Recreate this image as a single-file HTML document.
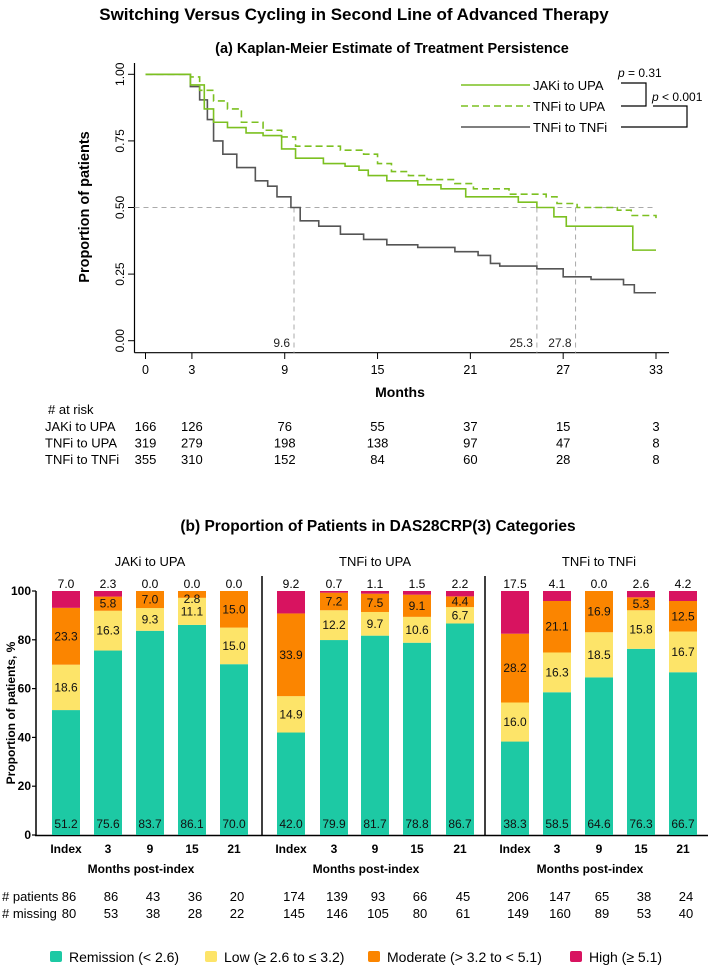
<!DOCTYPE html>
<html><head><meta charset="utf-8"><style>
body{margin:0;background:#fff;}
svg{display:block;font-family:"Liberation Sans Narrow","Liberation Sans",sans-serif;}
.b{font-family:"Liberation Sans",sans-serif;font-weight:bold;}
</style></head><body>
<svg id="chart" width="708" height="967" viewBox="0 0 708 967" xmlns="http://www.w3.org/2000/svg">
<text class="b" x="354" y="20" text-anchor="middle" font-size="17">Switching Versus Cycling in Second Line of Advanced Therapy</text>
<text class="b" x="392" y="53" text-anchor="middle" font-size="14.5">(a)  Kaplan-Meier Estimate of Treatment Persistence</text>
<g id="km"></g>
<text class="b" x="378" y="531" text-anchor="middle" font-size="15.5">(b) Proportion of Patients in DAS28CRP(3) Categories</text>
<g id="bars"></g>
</svg>
<script>
// ---- KM data ----
const kmMonthsTicks = [0,3,9,15,21,27,33];
const kmYTicks = [0,0.25,0.5,0.75,1];
const jakiUpaPts = [[2.9,0.96],[3.8,0.87],[4.4,0.82],[5.3,0.80],[6.5,0.78],[7.6,0.77],[8.8,0.72],[9.7,0.685],[11.5,0.665],[12.9,0.655],[13.8,0.64],[14.4,0.62],[15.6,0.60],[17.6,0.585],[19.1,0.57],[20.7,0.54],[24.1,0.52],[25.3,0.50],[26.4,0.465],[27.2,0.43],[31.5,0.34],[33,0.34]];
const tnfiUpaPts = [[2.9,0.99],[3.5,0.94],[4.4,0.90],[5.3,0.87],[6.2,0.82],[7.6,0.79],[8.8,0.765],[9.7,0.73],[12.6,0.715],[14.1,0.70],[15.0,0.665],[15.9,0.635],[17.0,0.62],[18.2,0.605],[20.0,0.59],[21.2,0.57],[23.5,0.55],[25.9,0.54],[26.6,0.515],[27.9,0.50],[30.5,0.49],[31.4,0.47],[33,0.46]];
const tnfiTnfiPts = [[2.9,0.954],[3.5,0.904],[4.0,0.83],[4.4,0.75],[5.0,0.70],[5.9,0.65],[7.1,0.60],[7.9,0.58],[8.5,0.54],[9.4,0.50],[10.0,0.45],[11.2,0.43],[12.6,0.40],[14.1,0.38],[15.6,0.36],[17.6,0.35],[20.0,0.334],[21.5,0.32],[22.3,0.29],[22.9,0.28],[25.3,0.27],[27.0,0.24],[28.8,0.23],[30.9,0.21],[31.6,0.18],[33,0.18]];
const medians = [9.6,25.3,27.8];
const riskNames = ["JAKi to UPA","TNFi to UPA","TNFi to TNFi"];
const riskJaki = [166,126,76,55,37,15,3];
const riskTnfiUpa = [319,279,198,138,97,47,8];
const riskTnfiTnfi = [355,310,152,84,60,28,8];
// ---- Bar data ----
const groups = ["JAKi to UPA","TNFi to UPA","TNFi to TNFi"];
const timepoints = ["Index","3","9","15","21"];
const remission = [[51.2,75.6,83.7,86.1,70.0],[42.0,79.9,81.7,78.8,86.7],[38.3,58.5,64.6,76.3,66.7]];
const low = [[18.6,16.3,9.3,11.1,15.0],[14.9,12.2,9.7,10.6,6.7],[16.0,16.3,18.5,15.8,16.7]];
const moderate = [[23.3,5.8,7.0,2.8,15.0],[33.9,7.2,7.5,9.1,4.4],[28.2,21.1,16.9,5.3,12.5]];
const high = [[7.0,2.3,0.0,0.0,0.0],[9.2,0.7,1.1,1.5,2.2],[17.5,4.1,0.0,2.6,4.2]];
const nPatients = [[86,86,43,36,20],[174,139,93,66,45],[206,147,65,38,24]];
const nMissing = [[80,53,38,28,22],[145,146,105,80,61],[149,160,89,53,40]];
const barYTicks = [0,20,40,60,80,100];

const NS="http://www.w3.org/2000/svg";
function mk(parent,tag,attrs,text){const e=document.createElementNS(NS,tag);for(const k in attrs)e.setAttribute(k,attrs[k]);if(text!==undefined)e.textContent=text;parent.appendChild(e);return e;}

// KM axes
const km=document.getElementById('km');
const kx=m=>145.5+m*(656-145.5)/33;
const ky=v=>340.7-v*266.4;
let e;
e=mk(km,'line',{x1:134.5,y1:63,x2:134.5,y2:352.7,stroke:'#000','stroke-width':1.2});


e=mk(km,'line',{x1:134.5,y1:352.7,x2:669,y2:352.7,stroke:'#000','stroke-width':1.2});


kmYTicks.forEach(v=>{
  mk(km,'line',{x1:128,y1:ky(v),x2:134.5,y2:ky(v),stroke:'#000'});
  e=mk(km,'text',{x:0,y:0,transform:`translate(124,${ky(v)}) rotate(-90)`,'text-anchor':'middle','font-size':12},v.toFixed(2));
  
  
});
kmMonthsTicks.forEach(m=>{
  mk(km,'line',{x1:kx(m),y1:352.7,x2:kx(m),y2:359,stroke:'#000'});
  e=mk(km,'text',{x:kx(m),y:374,'text-anchor':'middle','font-size':12.5},String(m));
  
  
});
e=mk(km,'text',{x:400,y:397,'text-anchor':'middle','font-size':14,class:'b'},'Months');


e=mk(km,'text',{x:0,y:0,transform:'translate(89,207) rotate(-90)','text-anchor':'middle','font-size':14.5,class:'b'},'Proportion of patients');


// median reference lines
const dash={stroke:'#aaa','stroke-width':1,'stroke-dasharray':'5,4',fill:'none'};
mk(km,'line',Object.assign({x1:134.5,y1:ky(0.5),x2:kx(33),y2:ky(0.5)},dash));
medians.forEach(m=>{
  mk(km,'line',Object.assign({x1:kx(m),y1:ky(0.5),x2:kx(m),y2:352.7},dash));
  e=mk(km,'text',{x:kx(m)-4,y:347,'text-anchor':'end','font-size':12,fill:'#222'},m.toFixed(1));
  
  
});
function stepPath(pts){let d=`M${kx(0)},${ky(1)}`;pts.forEach(p=>{d+=` H${kx(p[0])} V${ky(p[1])}`;});return d;}
e=mk(km,'path',{d:stepPath(tnfiTnfiPts),stroke:'#555','stroke-width':1.6,fill:'none'});


e=mk(km,'path',{d:stepPath(jakiUpaPts),stroke:'#7cc021','stroke-width':1.6,fill:'none'});


e=mk(km,'path',{d:stepPath(tnfiUpaPts),stroke:'#7cc021','stroke-width':1.6,fill:'none','stroke-dasharray':'7,4'});


// legend
const legY=[85,106,127];
const legStyle=[{stroke:'#7cc021'},{stroke:'#7cc021','stroke-dasharray':'7,4'},{stroke:'#555'}];
riskNames.forEach((n,i)=>{
  mk(km,'line',Object.assign({x1:461,y1:legY[i],x2:530,y2:legY[i],'stroke-width':1.5},legStyle[i]));
  e=mk(km,'text',{x:533,y:legY[i]+5,'font-size':13},n);
  
  
});
mk(km,'path',{d:'M621,83 H646 V106 H621',stroke:'#000',fill:'none','stroke-width':1.2});
mk(km,'path',{d:'M653,106 H687 V127 H621',stroke:'#000',fill:'none','stroke-width':1.2});
e=mk(km,'text',{x:618,y:77,'font-size':12},'');
e.innerHTML='<tspan font-style="italic">p</tspan> = 0.31';


e=mk(km,'text',{x:652,y:101,'font-size':12},'');
e.innerHTML='<tspan font-style="italic">p</tspan> &lt; 0.001';


// at risk
e=mk(km,'text',{x:48,y:414,'font-size':13},'# at risk');


[riskJaki,riskTnfiUpa,riskTnfiTnfi].forEach((row,r)=>{
  const yy=431+r*16.5;
  e=mk(km,'text',{x:45,y:yy,'font-size':13},riskNames[r]);
  
  
  row.forEach((v,i)=>{
    e=mk(km,'text',{x:kx(kmMonthsTicks[i]),y:yy,'text-anchor':'middle','font-size':13},String(v));
    
    
  });
});

// ---- Bars ----
const bg=document.getElementById('bars');
const by=v=>835-v*2.44;
const groupX=[[66,108,150,192,234],[291,334,375,417,460],[515,557,599,641,683]];
const cols={rem:'#1dc9a4',low:'#fde469',mod:'#fb8500',high:'#d81360'};
e=mk(bg,'line',{x1:36,y1:591,x2:36,y2:836,stroke:'#000','stroke-width':1.5});


e=mk(bg,'line',{x1:35,y1:835.5,x2:708,y2:835.5,stroke:'#000','stroke-width':1.5});


[262,485].forEach(x=>{e=mk(bg,'line',{x1:x,y1:576,x2:x,y2:835,stroke:'#000','stroke-width':1.5});

});
barYTicks.forEach(v=>{
  mk(bg,'line',{x1:32,y1:by(v),x2:36,y2:by(v),stroke:'#000','stroke-width':1.2});
  e=mk(bg,'text',{x:31,y:by(v)+4,'text-anchor':'end','font-size':12,class:'b'},String(v));
  
  
});
e=mk(bg,'text',{x:0,y:0,transform:'translate(15,713) rotate(-90)','text-anchor':'middle','font-size':12,class:'b'},'Proportion of patients, %');


e=mk(bg,'text',{x:2,y:901,'font-size':13},'# patients');


e=mk(bg,'text',{x:2,y:918,'font-size':13},'# missing');


const gCenter=[150,375,599];
groups.forEach((g,gi)=>{
  e=mk(bg,'text',{x:gCenter[gi],y:566,'text-anchor':'middle','font-size':13},g);
  
  
  e=mk(bg,'text',{x:gCenter[gi]-9,y:873,'text-anchor':'middle','font-size':12,class:'b'},'Months post-index');
  
  
  timepoints.forEach((t,i)=>{
    const cx=groupX[gi][i], w=28, x0=cx-w/2;
    const segs=[['rem',remission[gi][i]],['low',low[gi][i]],['mod',moderate[gi][i]],['high',high[gi][i]]];
    let acc=0;
    segs.forEach(([k,v])=>{
      if(v>0){
        const top=Math.min(acc+v,100);
        e=mk(bg,'rect',{x:x0,y:by(top),width:w,height:by(acc)-by(top),fill:cols[k]});
        
        
      }
      if(k!=='high'){
        const ly = k==='rem' ? 828 : Math.max(by(acc+v/2)+4, 603);
        e=mk(bg,'text',{x:cx,y:ly,'text-anchor':'middle','font-size':12,fill:'#111'},v.toFixed(1));
        
        
      }
      acc+=v;
    });
    e=mk(bg,'text',{x:cx,y:588,'text-anchor':'middle','font-size':12},high[gi][i].toFixed(1));
    
    
    e=mk(bg,'text',{x:cx,y:853,'text-anchor':'middle','font-size':12,class:'b'},t);
    
    
    e=mk(bg,'text',{x:cx+3,y:901,'text-anchor':'middle','font-size':13},String(nPatients[gi][i]));
    
    
    e=mk(bg,'text',{x:cx+3,y:918,'text-anchor':'middle','font-size':13},String(nMissing[gi][i]));
    
    
  });
});
// legend
const legItems=[['Remission (< 2.6)','rem',50],['Low (≥ 2.6 to ≤ 3.2)','low',205],['Moderate (> 3.2 to < 5.1)','mod',368],['High (≥ 5.1)','high',570]];
legItems.forEach(([lab,k,x])=>{
  e=mk(bg,'rect',{x:x,y:951,width:12,height:11,rx:2,fill:cols[k]});
  
  
  e=mk(bg,'text',{x:x+19,y:962,'font-size':14},lab);
  
  
});
</script>
</body></html>
